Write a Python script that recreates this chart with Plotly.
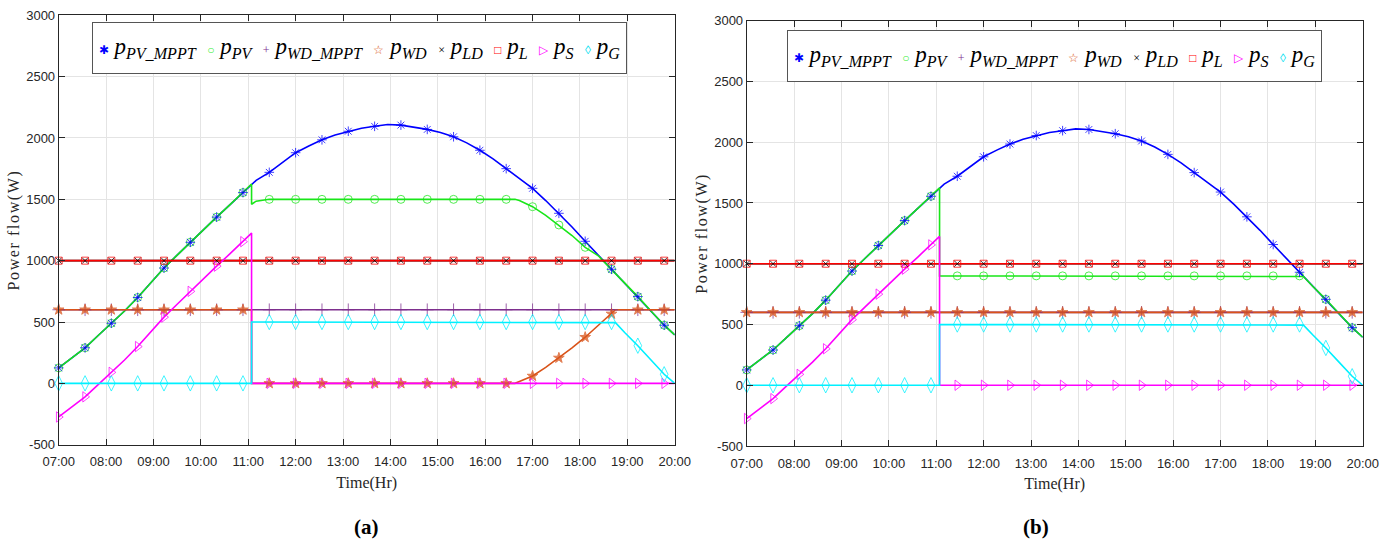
import numpy as np
import plotly.graph_objects as go

# ---------------- data ----------------
# time of day in hours (07:00 .. 20:00); 11.07 appears twice for the switching instant
T = [7.000, 7.278, 7.556, 7.833, 8.111, 8.389, 8.667, 8.944, 9.222, 9.500,
     9.778, 10.056, 10.333, 10.611, 10.889, 11.07, 11.07, 11.167, 11.444, 11.722,
     12.000, 12.278, 12.556, 12.833, 13.111, 13.389, 13.667, 13.944, 14.222, 14.500,
     14.778, 15.056, 15.333, 15.611, 15.889, 16.167, 16.444, 16.63, 16.722, 17.000,
     17.278, 17.556, 17.833, 18.111, 18.389, 18.45, 18.667, 18.75, 18.944, 19.222,
     19.500, 19.778, 20.000]

# marker instants used by the original plot
MARKER_T = [7.000, 7.556, 8.111, 8.667, 9.222, 9.778, 10.333, 10.889, 11.444, 12.000,
            12.556, 13.111, 13.667, 14.222, 14.778, 15.333, 15.889, 16.444, 17.000,
            17.556, 18.111, 18.667, 19.222, 19.778]

P_PV_MPPT = [126, 205, 290, 390, 490, 590, 700, 820, 940, 1045,
             1150, 1255, 1355, 1455, 1555, 1625, 1625, 1655, 1720, 1800,
             1880, 1935, 1985, 2025, 2055, 2080, 2095, 2110, 2105, 2090,
             2070, 2045, 2010, 1960, 1900, 1830, 1750, 1700, 1670, 1590,
             1490, 1386, 1275, 1158, 1045, 1015, 930, 895, 815, 707,
             590, 474, 395]

P_PV_A = [126, 205, 290, 390, 490, 590, 700, 820, 940, 1045,
          1150, 1255, 1355, 1455, 1555, 1625, 1460, 1485, 1500, 1500,
          1500, 1500, 1500, 1500, 1500, 1500, 1500, 1500, 1500, 1500,
          1500, 1500, 1500, 1500, 1500, 1500, 1500, 1500, 1490, 1440,
          1370, 1291, 1205, 1109, 1040, 1015, 930, 895, 815, 707,
          590, 474, 395]

P_PV_B = [126, 205, 290, 390, 490, 590, 700, 820, 940, 1045,
          1150, 1255, 1355, 1455, 1555, 1625, 900, 900, 900, 900,
          900, 900, 900, 900, 900, 900, 900, 900, 900, 900,
          900, 900, 900, 900, 900, 900, 900, 900, 900, 900,
          900, 900, 900, 900, 900, 900, 900, 895, 815, 707,
          590, 474, 395]

P_WD_MPPT = [600, 600, 600, 600, 600, 600, 600, 600, 600, 600,
             600, 600, 600, 600, 600, 600, 600, 600, 600, 600,
             600, 600, 600, 600, 600, 600, 600, 600, 600, 600,
             600, 600, 600, 600, 600, 600, 600, 600, 600, 600,
             600, 600, 600, 600, 600, 600, 600, 600, 600, 600,
             600, 600, 600]

P_WD_A = [600, 600, 600, 600, 600, 600, 600, 600, 600, 600,
          600, 600, 600, 600, 600, 600, 0, 0, 0, 0,
          0, 0, 0, 0, 0, 0, 0, 0, 0, 0,
          0, 0, 0, 0, 0, 0, 0, 0, 15, 60,
          130, 207, 290, 376, 470, 492, 566, 600, 600, 600,
          600, 600, 600]

P_WD_B = [600, 600, 600, 600, 600, 600, 600, 600, 600, 600,
          600, 600, 600, 600, 600, 600, 600, 600, 600, 600,
          600, 600, 600, 600, 600, 600, 600, 600, 600, 600,
          600, 600, 600, 600, 600, 600, 600, 600, 600, 600,
          600, 600, 600, 600, 600, 600, 600, 600, 600, 600,
          600, 600, 600]

P_LD = [1000, 1000, 1000, 1000, 1000, 1000, 1000, 1000, 1000, 1000,
        1000, 1000, 1000, 1000, 1000, 1000, 1000, 1000, 1000, 1000,
        1000, 1000, 1000, 1000, 1000, 1000, 1000, 1000, 1000, 1000,
        1000, 1000, 1000, 1000, 1000, 1000, 1000, 1000, 1000, 1000,
        1000, 1000, 1000, 1000, 1000, 1000, 1000, 1000, 1000, 1000,
        1000, 1000, 1000]

P_L = [1000, 1000, 1000, 1000, 1000, 1000, 1000, 1000, 1000, 1000,
       1000, 1000, 1000, 1000, 1000, 1000, 1000, 1000, 1000, 1000,
       1000, 1000, 1000, 1000, 1000, 1000, 1000, 1000, 1000, 1000,
       1000, 1000, 1000, 1000, 1000, 1000, 1000, 1000, 1000, 1000,
       1000, 1000, 1000, 1000, 1000, 1000, 1000, 1000, 1000, 1000,
       1000, 1000, 1000]

P_S = [-274, -195, -110, -10, 90, 190, 300, 420, 540, 645,
       750, 855, 955, 1055, 1155, 1225, 0, 0, 0, 0,
       0, 0, 0, 0, 0, 0, 0, 0, 0, 0,
       0, 0, 0, 0, 0, 0, 0, 0, 0, 0,
       0, 0, 0, 0, 0, 0, 0, 0, 0, 0,
       0, 0, 0]

P_G = [0, 0, 0, 0, 0, 0, 0, 0, 0, 0,
       0, 0, 0, 0, 0, 0, 500, 500, 500, 500,
       500, 500, 500, 500, 500, 500, 500, 500, 500, 500,
       500, 500, 500, 500, 500, 500, 500, 500, 500, 500,
       500, 500, 500, 500, 500, 500, 500, 495, 415, 307,
       190, 74, 0]

X_TICKS = [7, 8, 9, 10, 11, 12, 13, 14, 15, 16, 17, 18, 19, 20]
X_LABELS = ["07:00", "08:00", "09:00", "10:00", "11:00", "12:00", "13:00",
            "14:00", "15:00", "16:00", "17:00", "18:00", "19:00", "20:00"]
Y_TICKS = [-500, 0, 500, 1000, 1500, 2000, 2500, 3000]
Y_LABELS = ["-500", "0", "500", "1000", "1500", "2000", "2500", "3000"]

# ---------------- styling ----------------
SERIES = [  # key, colour, symbol, marker size
    ("PV_MPPT", "#0000ff", "asterisk-open", 8),
    ("PV", "#19e619", "circle-open", 8),
    ("WD_MPPT", "#7e2f8e", "cross-thin-open", 9),
    ("WD", "#d95319", "star", 8),
    ("LD", "#000000", "x-thin-open", 6),
    ("L", "#ff0000", "square-open", 7),
    ("S", "#ff00ff", "triangle-right-open", 9),
    ("G", "#00f0ff", "diamond-tall-open", 11),
]
STYLE = {k: (c, s, z) for k, c, s, z in SERIES}
MARKER_ORDER = ["PV", "PV_MPPT", "WD_MPPT", "WD", "L", "LD", "S", "G"]

PANELS = [
    dict(xa="x", ya="y", data={"PV_MPPT": P_PV_MPPT, "PV": P_PV_A, "WD_MPPT": P_WD_MPPT,
                               "WD": P_WD_A, "LD": P_LD, "L": P_L, "S": P_S, "G": P_G}),
    dict(xa="x2", ya="y2", data={"PV_MPPT": P_PV_MPPT, "PV": P_PV_B, "WD_MPPT": P_WD_MPPT,
                                 "WD": P_WD_B, "LD": P_LD, "L": P_L, "S": P_S, "G": P_G}),
]

t = np.array(T)
mask = np.array([np.any(np.isclose(v, MARKER_T, atol=1e-3)) for v in T])

fig = go.Figure()
for p in PANELS:
    for key, col, sym, sz in SERIES:
        fig.add_trace(go.Scatter(x=t, y=p["data"][key], mode="lines", xaxis=p["xa"], yaxis=p["ya"],
                                 line=dict(color=col, width=1.6), showlegend=False, hoverinfo="skip"))
    for key in MARKER_ORDER:
        col, sym, sz = STYLE[key]
        y = np.array(p["data"][key])
        fig.add_trace(go.Scatter(x=t[mask], y=y[mask], mode="markers", xaxis=p["xa"], yaxis=p["ya"],
                                 cliponaxis=False, showlegend=False, hoverinfo="skip",
                                 marker=dict(symbol=sym, size=sz, color=col, opacity=0.75,
                                             line=dict(color=col, width=1))))

TICKFONT = dict(family="Liberation Sans Narrow, Arial Narrow, Liberation Sans, sans-serif",
                size=13, color="#262626")
SERIF = "Liberation Serif, Times New Roman, serif"


def xaxis(domain, anchor):
    return dict(domain=domain, anchor=anchor, range=[7, 20], tickmode="array",
                tickvals=X_TICKS, ticktext=X_LABELS, ticks="inside", ticklen=6,
                tickcolor="#262626", showline=True, linecolor="#262626", linewidth=1,
                mirror="ticks", showgrid=True, gridcolor="#e4e4e4", gridwidth=1,
                zeroline=False, tickfont=TICKFONT, ticklabelstandoff=5, automargin=False,
                title=dict(text="Time(Hr)", font=dict(family=SERIF, size=16, color="#262626"),
                           standoff=8))


def yaxis(domain, anchor):
    return dict(domain=domain, anchor=anchor, range=[-500, 3000], tickmode="array",
                tickvals=Y_TICKS, ticktext=Y_LABELS, ticks="inside", ticklen=6,
                tickcolor="#262626", showline=True, linecolor="#262626", linewidth=1,
                mirror="ticks", showgrid=True, gridcolor="#e4e4e4", gridwidth=1,
                zeroline=False, tickfont=TICKFONT, automargin=False,
                title=dict(text='<span style="letter-spacing:1.6px">Power flow(W)</span>',
                           font=dict(family=SERIF, size=16, color="#262626"),
                           standoff=2))


W, H = 1386, 543
fig.update_layout(
    width=W, height=H, margin=dict(l=0, r=0, t=0, b=0),
    paper_bgcolor="white", plot_bgcolor="white", showlegend=False,
    xaxis=xaxis([58.7 / W, 674.7 / W], "y"),
    yaxis=yaxis([1 - 444.7 / H, 1 - 15.3 / H], "x"),
    xaxis2=xaxis([746.7 / W, 1362.7 / W], "y2"),
    yaxis2=yaxis([1 - 446 / H, 1 - 20.7 / H], "x2"),
)

NB = "\u00a0"
LEGEND_ITEMS = [
    ("\u2731", "#0000ff", "PV_MPPT"),
    ("\u25cb", "#33ee33", "PV"),
    ("+", "#7e2f8e", "WD_MPPT"),
    ("\u2606", "#d95319", "WD"),
    ("\u00d7", "#000000", "LD"),
    ("\u25a1", "#ff0000", "L"),
    ("\u25b7", "#ff00ff", "S"),
    ("\u25ca", "#00e0f0", "G"),
]
legend_text = (NB * 2).join(
    f'<span style="color:{c};font-size:12px">{g}</span>{NB}<i>p</i><sub><i>{lab}</i></sub>'
    for g, c, lab in LEGEND_ITEMS)

for xr, yr, lx, ly in [("x domain", "y domain", (92 - 58.7) / 616, 1 - (22 - 15.3) / 429.4),
                       ("x2 domain", "y2 domain", (787 - 746.7) / 616, 1 - (30 - 20.7) / 425.3)]:
    fig.add_annotation(xref=xr, yref=yr, x=lx, y=ly, xanchor="left", yanchor="top",
                       text=legend_text, showarrow=False, align="center", valign="middle",
                       width=527, height=44, borderpad=3, bordercolor="#555555", borderwidth=1,
                       bgcolor="white", font=dict(family=SERIF, size=23, color="black"))

for cx, lab in [(366, "(a)"), (1036, "(b)")]:
    fig.add_annotation(xref="paper", yref="paper", x=cx / W, y=1 - 527 / H, xanchor="center",
                       yanchor="middle", text=f"<b>{lab}</b>", showarrow=False,
                       font=dict(family=SERIF, size=21, color="black"))

fig.write_html("out.html", config={"displayModeBar": False},
               post_script="document.body.style.margin='0';document.body.style.overflow='hidden';")
